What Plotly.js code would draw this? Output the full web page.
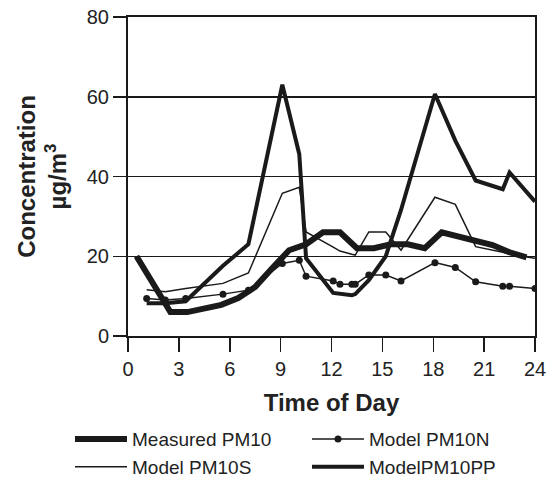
<!DOCTYPE html>
<html>
<head>
<meta charset="utf-8">
<script src="https://cdn.plot.ly/plotly-3.0.1.min.js"></script>
<style>html,body{margin:0;padding:0;background:#fff}#chart{width:555px;height:486px}</style>
</head>
<body>
<div id="chart"></div>
<script>
// Measured series (hourly, mid-hour)
const measuredHours = [0.5,1.5,2.5,3.5,4.5,5.5,6.5,7.5,8.5,9.5,10.5,11.5,12.5,13.5,14.5,15.5,16.5,17.5,18.5,19.5,20.5,21.5,22.5,23.5];
const measuredPM10 = [20,13,6,6,6.8,7.8,9.5,12.3,17,21.5,23,26,26,22,22,23,23,22,26,25,24,22.8,21,19.7];

// Model series times
const modelHours = [1.1,2.2,3.4,5.6,7.1,9.1,10.1,10.5,12.1,12.5,13.2,13.4,14.2,15.2,16.1,18.1,19.3,20.5,22.1,22.5,24];
const modelPM10N = [9.4,9.0,9.4,10.5,11.5,18.2,19,15,13.8,13,13,13,15.3,15.3,13.8,18.4,17.2,13.6,12.5,12.5,11.9];
const modelPM10S = [11.6,11.1,11.9,13.2,15.8,35.8,37.3,26.1,22.3,21.3,20.5,20.3,26.1,26.1,21.5,34.8,33,22.4,21,20.5,19.5];
const modelPM10PP = [8.2,8.2,8.7,17.6,23,63,45.6,19.5,10.8,10.5,10.2,10.5,14,20,31.6,60.7,49,39,36.8,41,33.7];

const xTicks = [0,3,6,9,12,15,18,21,24];
const yTicks = [0,20,40,60,80];

const ink = '#1a1a1a';
const fontFam = 'Liberation Sans, Arial, sans-serif';

const traces = [
  {x: measuredHours, y: measuredPM10, name: 'Measured PM10', mode: 'lines',
   line: {color: ink, width: 6}},
  {x: modelHours, y: modelPM10N, name: 'Model PM10N', mode: 'lines+markers',
   line: {color: ink, width: 1.5}, marker: {color: ink, size: 7}},
  {x: modelHours, y: modelPM10S, name: 'Model PM10S', mode: 'lines',
   line: {color: ink, width: 1.5}},
  {x: modelHours, y: modelPM10PP, name: 'ModelPM10PP', mode: 'lines',
   line: {color: ink, width: 4}}
];

const layout = {
  width: 555, height: 486,
  margin: {l: 128, r: 20, t: 17, b: 150, autoexpand: false},
  paper_bgcolor: '#fff', plot_bgcolor: '#fff',
  font: {family: fontFam, color: '#222', size: 20},
  showlegend: true,
  legend: {
    orientation: 'h', x: -0.1425, xanchor: 'left', y: -0.264, yanchor: 'top',
    itemwidth: 52,
    entrywidth: 170, entrywidthmode: 'pixels',
    font: {family: fontFam, size: 19, color: '#222'},
    traceorder: 'normal', bgcolor: 'rgba(0,0,0,0)'
  },
  xaxis: {
    range: [0, 24], tickvals: xTicks, ticktext: xTicks.map(String),
    ticks: 'outside', ticklen: 14, tickwidth: 1.5, tickcolor: ink,
    showline: true, linewidth: 2, linecolor: ink, mirror: true,
    showgrid: false, zeroline: false,
    tickfont: {family: fontFam, size: 20, color: '#222'},
    title: {text: 'Time of Day', font: {family: fontFam, size: 24, weight: 'bold', color: '#222'}, standoff: 15}
  },
  yaxis: {
    range: [0, 80], tickvals: yTicks, ticktext: yTicks.map(String),
    ticks: 'outside', ticklen: 13, tickwidth: 1.5, tickcolor: ink,
    showline: true, linewidth: 2, linecolor: ink, mirror: true,
    showgrid: true, gridcolor: ink, gridwidth: 1.5, zeroline: false,
    tickfont: {family: fontFam, size: 20, color: '#222'},
    title: {text: 'Concentration<br>µg/m<sup>3</sup>', font: {family: fontFam, size: 24, weight: 'bold', color: '#222'}, standoff: 13}
  }
};

Plotly.newPlot('chart', traces, layout, {displayModeBar: false, staticPlot: true});
</script>
</body>
</html>
